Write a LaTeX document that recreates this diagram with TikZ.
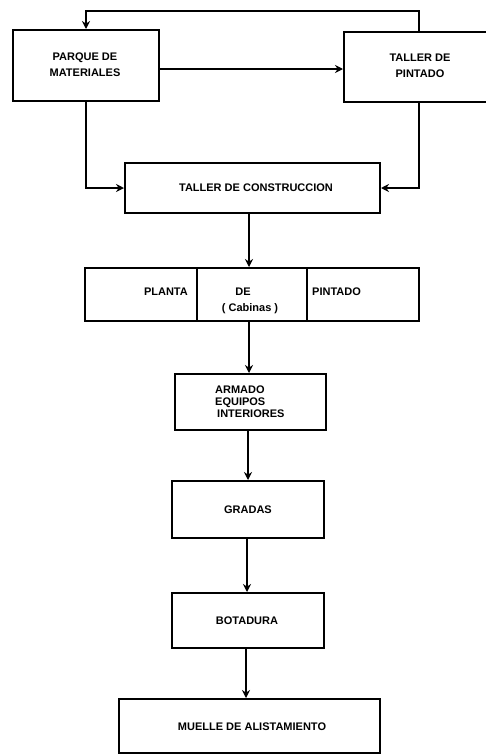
\documentclass[tikz,border=0pt]{standalone}
\usepackage{fontspec}
\setmainfont{Liberation Sans}
\usetikzlibrary{arrows.meta}
\begin{document}
\begin{tikzpicture}[x=1pt,y=-1pt,
  box/.style={draw,line width=2pt,rectangle,inner sep=0pt},
  lbl/.style={font=\fontsize{11}{12}\selectfont\bfseries,inner sep=0pt,align=center},
  arr/.style={line width=1.6pt,-{Stealth[length=8pt,width=8pt]}},
  ln/.style={line width=1.6pt}]
\useasboundingbox[fill=white] (0,0) rectangle (485,755);
% boxes
\node[box,minimum width=146pt,minimum height=71pt] (parque) at (86,65.5) {};
\node[lbl] (parqueT) at (85,65) {PARQUE DE\\[4pt]MATERIALES};
\node[box,minimum width=171pt,minimum height=70pt] (pintado) at (429.5,67) {};
\node[lbl] (pintadoT) at (420,66) {TALLER DE\\[4pt]PINTADO};
\node[box,minimum width=255pt,minimum height=50pt] (constr) at (252.5,188) {};
\node[lbl] (constrT) at (256,188) {TALLER DE CONSTRUCCION};
\node[box,minimum width=334pt,minimum height=53pt] (planta) at (252,294.5) {};
\draw[ln] (planta.north -| 197,0) -- (planta.south -| 197,0);
\draw[ln] (planta.north -| 307,0) -- (planta.south -| 307,0);
\node[lbl,anchor=east] (plantaA) at (188,292) {PLANTA};
\node[lbl] (plantaB) at (243,292) {DE};
\node[lbl] (plantaC) at (250,309) {( Cabinas )};
\node[lbl,anchor=west] (plantaD) at (312,292) {PINTADO};
\node[box,minimum width=151pt,minimum height=56pt] (armado) at (250.5,402) {};
\node[lbl,align=left,anchor=north west] (armadoT) at (215,386) {ARMADO\\EQUIPOS\\\hspace{2pt}INTERIORES};
\node[box,minimum width=152pt,minimum height=57pt] (gradas) at (248,509.5) {};
\node[lbl] (gradasT) at (248,510) {GRADAS};
\node[box,minimum width=152pt,minimum height=55pt] (botadura) at (248,620.5) {};
\node[lbl] (botaduraT) at (247,621) {BOTADURA};
\node[box,minimum width=261pt,minimum height=54pt] (muelle) at (249.5,726) {};
\node[lbl] (muelleT) at (252,727) {MUELLE DE ALISTAMIENTO};
% connectors
\draw[arr] (pintado.north -| 419,0) -- ++(0,-20) -| (parque.north);
\draw[arr] (parque.east |- 0,69) -- (pintado.west |- 0,69);
\draw[arr] (parque.south) |- (constr.west);
\draw[arr] (pintado.south -| 419,0) |- (constr.east);
\draw[arr] (constr.south -| 249,0) -- (planta.north -| 249,0);
\draw[arr] (planta.south -| 249,0) -- (armado.north -| 249,0);
\draw[arr] (armado.south -| 248,0) -- (gradas.north -| 248,0);
\draw[arr] (gradas.south -| 247,0) -- (botadura.north -| 247,0);
\draw[arr] (botadura.south -| 246,0) -- (muelle.north -| 246,0);
\end{tikzpicture}
\end{document}
